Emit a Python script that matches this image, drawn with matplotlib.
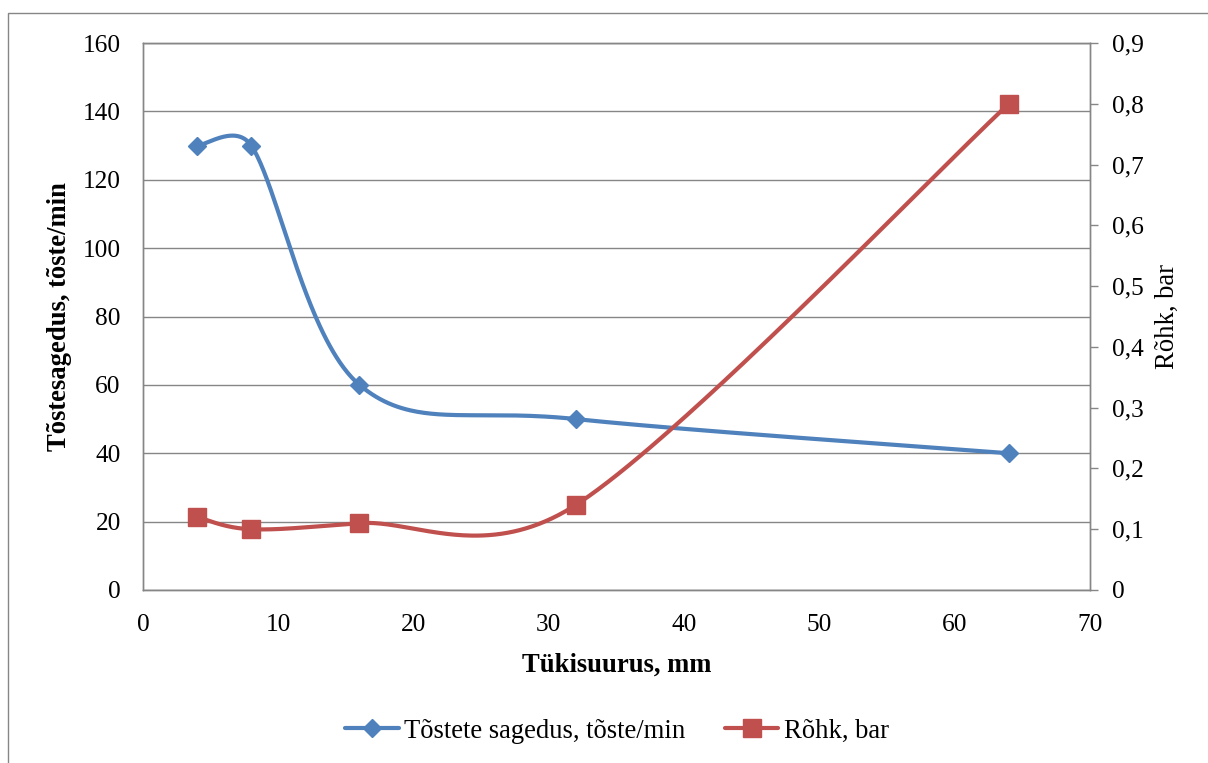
import numpy as np
import matplotlib
matplotlib.use('Agg')
import matplotlib.pyplot as plt
from matplotlib.patches import Rectangle
from matplotlib.ticker import FuncFormatter

# measured values
size_mm = [4, 8, 16, 32, 64]
lift_rate = [130, 130, 60, 50, 40]        # tõste/min
pressure = [0.12, 0.10, 0.11, 0.14, 0.80]  # bar

x_ticks = [0, 10, 20, 30, 40, 50, 60, 70]
left_ticks = [0, 20, 40, 60, 80, 100, 120, 140, 160]
right_ticks = [0, 0.1, 0.2, 0.3, 0.4, 0.5, 0.6, 0.7, 0.8, 0.9]

BLUE = '#4F81BD'
RED = '#C0504D'
GRID = '#868686'
FS = 18.3
FS_LAB = 19.2

plt.rcParams['font.family'] = ['Liberation Serif', 'DejaVu Serif']


def smooth(xs, ys, xmax, ymax, w, h, n=80):
    # spreadsheet-style smoothed line: cubic Bezier per segment, control arms
    # 1/6 of the neighbour chord but never longer than half the segment
    p = np.column_stack([np.asarray(xs, float) / xmax * w,
                         np.asarray(ys, float) / ymax * h])
    ext = np.vstack([p[0], p, p[-1]])
    out = []
    t = np.linspace(0, 1, n)[:, None]
    for i in range(len(p) - 1):
        p0, p1, p2, p3 = ext[i], ext[i + 1], ext[i + 2], ext[i + 3]
        d12 = np.hypot(*(p2 - p1))
        d02 = np.hypot(*(p2 - p0))
        d13 = np.hypot(*(p3 - p1))
        f1 = 1 / 6.0 if d02 == 0 else min(1 / 6.0, d12 / (2 * d02))
        f2 = 1 / 6.0 if d13 == 0 else min(1 / 6.0, d12 / (2 * d13))
        c1 = p1 + (p2 - p0) * f1
        c2 = p2 - (p3 - p1) * f2
        seg = ((1 - t) ** 3) * p1 + 3 * t * (1 - t) ** 2 * c1 \
            + 3 * t ** 2 * (1 - t) * c2 + t ** 3 * p2
        out.append(seg if i == 0 else seg[1:])
    out = np.vstack(out)
    return out[:, 0] / w * xmax, out[:, 1] / h * ymax


W, H = 1208, 763
fig = plt.figure(figsize=(W / 100, H / 100), dpi=100)

# chart outline
fig.patches.append(Rectangle((8 / W, -0.05), 1.1, 1 - 13 / H + 0.05,
                             transform=fig.transFigure, fill=False,
                             edgecolor=GRID, linewidth=1.0))

left, right, top, bottom = 143, 1090, 43, 590
ax1 = fig.add_axes([left / W, 1 - bottom / H, (right - left) / W, (bottom - top) / H])
ax2 = ax1.twinx()
pw, ph = right - left, bottom - top

ax1.set_xlim(0, 70)
ax1.set_ylim(0, 160)
ax2.set_ylim(0, 0.9)
ax1.set_xticks(x_ticks)
ax1.set_yticks(left_ticks)
ax2.set_yticks(right_ticks)
ax2.yaxis.set_major_formatter(FuncFormatter(lambda v, p: '0' if v == 0 else ('%.1f' % v).replace('.', ',')))

ax1.grid(axis='y', color=GRID, linewidth=1.0)
ax1.set_axisbelow(True)
for ax in (ax1, ax2):
    for s in ax.spines.values():
        s.set_color(GRID)
        s.set_linewidth(1.0)

ax1.tick_params(axis='both', length=0, labelsize=FS, colors='black')
ax1.tick_params(axis='y', pad=16)
ax1.tick_params(axis='x', pad=17)
ax2.tick_params(axis='y', direction='out', length=6, width=1.0, color=GRID,
                labelsize=FS, labelcolor='black', pad=10)

bx, by = smooth(size_mm, lift_rate, 70, 160, pw, ph)
rx, ry = smooth(size_mm, pressure, 70, 0.9, pw, ph)

ax1.plot(bx, by, color=BLUE, linewidth=3, solid_capstyle='round')
ax1.plot(size_mm, lift_rate, linestyle='none', marker='D', markersize=9.2, color=BLUE)
ax2.plot(rx, ry, color=RED, linewidth=3, solid_capstyle='round')
ax2.plot(size_mm, pressure, linestyle='none', marker='s', markersize=12.5, color=RED)

ax1.set_xlabel('Tükisuurus, mm', fontsize=FS_LAB, fontweight='bold', labelpad=12)
ax1.set_ylabel('Tõstesagedus, tõste/min', fontsize=FS_LAB, fontweight='bold', labelpad=8)
ax2.set_ylabel('Rõhk, bar', fontsize=FS_LAB, labelpad=8)

h1, = ax1.plot([], [], color=BLUE, linewidth=3, marker='D', markersize=9.2,
               solid_capstyle='round')
h2, = ax1.plot([], [], color=RED, linewidth=3, marker='s', markersize=12.5,
               solid_capstyle='round')
fig.legend([h1, h2], ['Tõstete sagedus, tõste/min', 'Rõhk, bar'],
           loc='center', bbox_to_anchor=(617 / W, 1 - 731 / H), ncol=2,
           frameon=False, fontsize=FS_LAB, handlelength=2.0, handletextpad=0.2,
           columnspacing=1.5, borderpad=0)

fig.savefig('out.png', dpi=100)
